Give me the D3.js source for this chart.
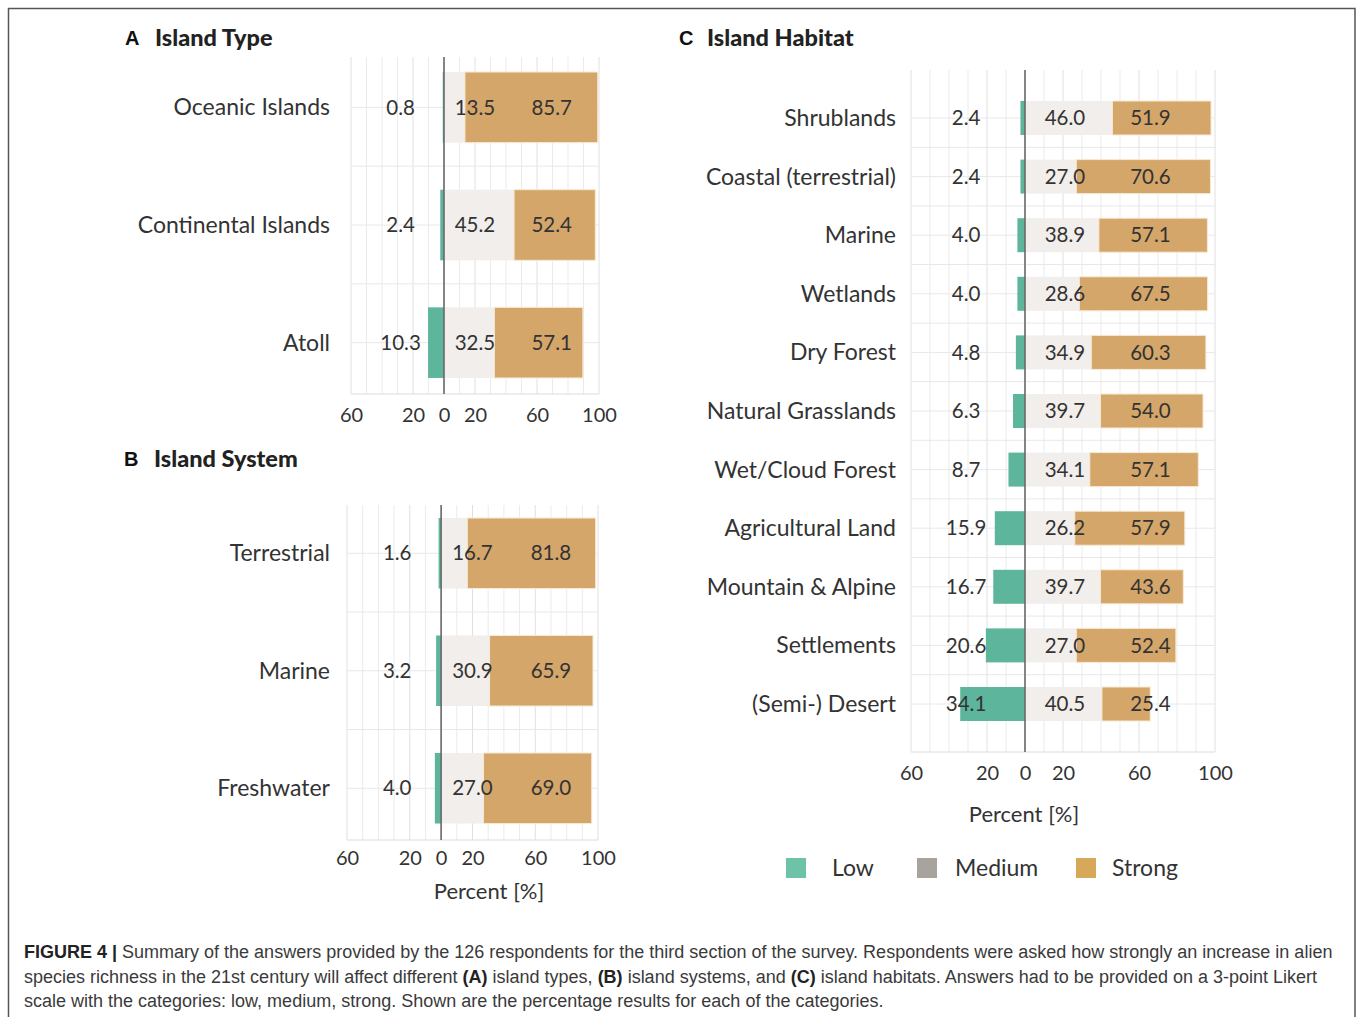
<!DOCTYPE html>
<html><head><meta charset="utf-8">
<script src="https://cdn.jsdelivr.net/npm/d3@7"></script>
<style>
html,body{margin:0;padding:0;background:#fff;}
svg{display:block;}
</style></head>
<body>
<script>
// ---- data ----
const typeCats = ["Oceanic Islands", "Continental Islands", "Atoll"];
const typeLow = [0.8, 2.4, 10.3];
const typeMedium = [13.5, 45.2, 32.5];
const typeStrong = [85.7, 52.4, 57.1];

const systemCats = ["Terrestrial", "Marine", "Freshwater"];
const systemLow = [1.6, 3.2, 4.0];
const systemMedium = [16.7, 30.9, 27.0];
const systemStrong = [81.8, 65.9, 69.0];

const habitatCats = ["Shrublands", "Coastal (terrestrial)", "Marine", "Wetlands", "Dry Forest",
  "Natural Grasslands", "Wet/Cloud Forest", "Agricultural Land", "Mountain & Alpine", "Settlements", "(Semi-) Desert"];
const habitatLow = [2.4, 2.4, 4.0, 4.0, 4.8, 6.3, 8.7, 15.9, 16.7, 20.6, 34.1];
const habitatMedium = [46.0, 27.0, 38.9, 28.6, 34.9, 39.7, 34.1, 26.2, 39.7, 27.0, 40.5];
const habitatStrong = [51.9, 70.6, 57.1, 67.5, 60.3, 54.0, 57.1, 57.9, 43.6, 52.4, 25.4];

const tickValues = [-60, -20, 0, 20, 60, 100];
const legendLabels = ["Low", "Medium", "Strong"];

// ---- style ----
const W = 1357, H = 1017;
const FONT = "Lato, 'Open Sans', sans-serif";
const colLow = "#5db59b", colMed = "#f1eeec", colStrong = "#d4a66a";
const legendColors = ["#6cc3a7", "#a9a39e", "#d8a85a"];
const textCol = "#333";

const svg = d3.select("body").append("svg").attr("width", W).attr("height", H);
svg.append("rect").attr("width", W).attr("height", H).attr("fill", "#fff");

// frame
svg.append("path").attr("d", `M8.5,${H} V8.5 H1355 V${H}`).attr("fill", "none")
  .attr("stroke", "#555").attr("stroke-width", 1.5);

function drawPanel(cfg, cats, low, med, strong) {
  const g = svg.append("g");
  const x = d3.scaleLinear().domain([-60, 100]).range([cfg.x0, cfg.x1]);
  const y = d3.scaleBand().domain(cats).range([cfg.b0, cfg.b1]);
  const step = y.step();
  const bh = step * cfg.barFrac;

  // plot background grid
  const gridV = d3.range(-60, 101, 10);
  g.selectAll("line.gv").data(gridV).enter().append("line")
    .attr("x1", d => x(d)).attr("x2", d => x(d))
    .attr("y1", cfg.top).attr("y2", cfg.bottom)
    .attr("stroke", d => tickValues.includes(d) ? "#e0e0e0" : "#ebebeb").attr("stroke-width", 1);
  const gridH = [];
  cats.forEach((c, i) => { gridH.push(y(c) + step / 2); if (i > 0) gridH.push(y(c)); });
  g.selectAll("line.gh").data(gridH).enter().append("line")
    .attr("x1", x(-60)).attr("x2", x(100))
    .attr("y1", d => d).attr("y2", d => d)
    .attr("stroke", "#e8e8e8").attr("stroke-width", 1);
  // bottom axis line
  g.append("line").attr("x1", x(-60)).attr("x2", x(100)).attr("y1", cfg.bottom).attr("y2", cfg.bottom)
    .attr("stroke", "#dcdcdc").attr("stroke-width", 1);

  const rows = cats.map((c, i) => ({ c, low: low[i], med: med[i], strong: strong[i] }));
  const cy = d => y(d.c) + step / 2;

  // bars
  g.selectAll("rect.med").data(rows).enter().append("rect")
    .attr("x", x(0)).attr("width", d => x(d.med) - x(0))
    .attr("y", d => cy(d) - bh / 2).attr("height", bh).attr("fill", colMed);
  g.selectAll("rect.strong").data(rows).enter().append("rect")
    .attr("x", d => x(d.med)).attr("width", d => x(d.med + d.strong) - x(d.med))
    .attr("y", d => cy(d) - bh / 2).attr("height", bh).attr("fill", colStrong)
    .attr("stroke", "#f6e9d2").attr("stroke-width", 1);
  g.selectAll("rect.low").data(rows).enter().append("rect")
    .attr("x", d => x(-d.low)).attr("width", d => x(0) - x(-d.low))
    .attr("y", d => cy(d) - bh / 2).attr("height", bh).attr("fill", colLow);

  // zero line
  g.append("line").attr("x1", x(0)).attr("x2", x(0)).attr("y1", cfg.top).attr("y2", cfg.bottom)
    .attr("stroke", "#6a6a6a").attr("stroke-width", 1.6);

  // value labels
  const lab = (sel, xv, key) => sel.data(rows).enter().append("text")
    .attr("x", x(xv)).attr("y", d => cy(d)).attr("dy", "0.35em")
    .attr("text-anchor", "middle").attr("font-family", FONT).attr("font-size", cfg.valSize)
    .attr("fill", textCol).text(d => d[key].toFixed(1));
  lab(g.selectAll("text.l"), cfg.lowLab, "low");
  lab(g.selectAll("text.m"), cfg.medLab, "med");
  lab(g.selectAll("text.s"), cfg.strongLab, "strong");

  // category labels
  g.selectAll("text.cat").data(rows).enter().append("text")
    .attr("x", cfg.catX).attr("y", d => cy(d)).attr("dy", "0.35em")
    .attr("text-anchor", "end").attr("font-family", FONT).attr("font-size", cfg.catSize)
    .attr("fill", textCol).text(d => d.c);

  // x axis
  const axis = d3.axisBottom(x).tickValues(tickValues).tickSize(0).tickPadding(0)
    .tickFormat(d => Math.abs(d));
  const ag = g.append("g").attr("transform", `translate(0,${cfg.tickY})`).call(axis);
  ag.select(".domain").remove();
  ag.selectAll("text").attr("font-family", FONT).attr("font-size", cfg.tickSize)
    .attr("fill", textCol).attr("dy", "0.35em").attr("y", 0);

  if (cfg.xTitleY) {
    g.append("text").attr("x", cfg.xTitleX).attr("y", cfg.xTitleY).attr("dy", "0.35em")
      .attr("text-anchor", "middle").attr("font-family", FONT).attr("font-size", 22)
      .attr("fill", textCol).text("Percent [%]");
  }

  // title
  g.append("text").attr("x", cfg.letterX).attr("y", cfg.titleY).attr("dy", "0.35em")
    .attr("font-family", "'Liberation Sans', Arial, sans-serif").attr("font-weight", "bold")
    .attr("font-size", 20).attr("fill", "#111").text(cfg.letter);
  g.append("text").attr("x", cfg.titleX).attr("y", cfg.titleY).attr("dy", "0.35em")
    .attr("font-family", FONT).attr("font-weight", 900)
    .attr("font-size", 23.5).attr("fill", "#222").text(cfg.title);
}

drawPanel({ x0: 351, x1: 599, b0: 48.5, b1: 401.5, top: 57, bottom: 394, barFrac: 0.6,
  lowLab: -28, medLab: 20, strongLab: 69.5, valSize: 20.5, catX: 330, catSize: 23,
  tickY: 415, tickSize: 20, letter: "A", letterX: 125, title: "Island Type", titleX: 155, titleY: 38 },
  typeCats, typeLow, typeMedium, typeStrong);

drawPanel({ x0: 347, x1: 598, b0: 494.5, b1: 847, top: 505, bottom: 840, barFrac: 0.6,
  lowLab: -28, medLab: 20, strongLab: 70, valSize: 20.5, catX: 330, catSize: 23,
  tickY: 858, tickSize: 20, xTitleX: 489, xTitleY: 891, letter: "B", letterX: 124, title: "Island System", titleX: 154, titleY: 459 },
  systemCats, systemLow, systemMedium, systemStrong);

drawPanel({ x0: 911, x1: 1215, b0: 88.7, b1: 733.3, top: 70, bottom: 752, barFrac: 0.58,
  lowLab: -31, medLab: 21, strongLab: 66, valSize: 20.5, catX: 896, catSize: 23,
  tickY: 773, tickSize: 20, xTitleX: 1024, xTitleY: 814, letter: "C", letterX: 679, title: "Island Habitat", titleX: 707, titleY: 38 },
  habitatCats, habitatLow, habitatMedium, habitatStrong);

// legend
const legX = [796, 927, 1086];
const legTX = [832, 955, 1112];
const lg = svg.append("g");
legendLabels.forEach((l, i) => {
  lg.append("rect").attr("x", legX[i] - 10).attr("y", 858).attr("width", 20).attr("height", 20)
    .attr("fill", legendColors[i]);
  lg.append("text").attr("x", legTX[i]).attr("y", 868).attr("dy", "0.35em")
    .attr("font-family", FONT).attr("font-size", 23).attr("fill", textCol).text(l);
});

// caption
const capFont = "'Liberation Sans', Arial, sans-serif";
const capLines = [
  [["FIGURE 4 |", true], [" Summary of the answers provided by the 126 respondents for the third section of the survey. Respondents were asked how strongly an increase in alien", false]],
  [["species richness in the 21st century will affect different ", false], ["(A)", true], [" island types, ", false], ["(B)", true], [" island systems, and ", false], ["(C)", true], [" island habitats. Answers had to be provided on a 3-point Likert", false]],
  [["scale with the categories: low, medium, strong. Shown are the percentage results for each of the categories.", false]]
];
const capY = [958, 983, 1007];
capLines.forEach((line, i) => {
  const t = svg.append("text").attr("x", 24).attr("y", capY[i])
    .attr("font-family", capFont).attr("font-size", 18).attr("fill", "#3a3a3a");
  line.forEach(([s, b]) => {
    t.append("tspan").attr("font-weight", b ? "bold" : "normal").attr("fill", b ? "#222" : "#3a3a3a").text(s);
  });
});
</script>
</body></html>
